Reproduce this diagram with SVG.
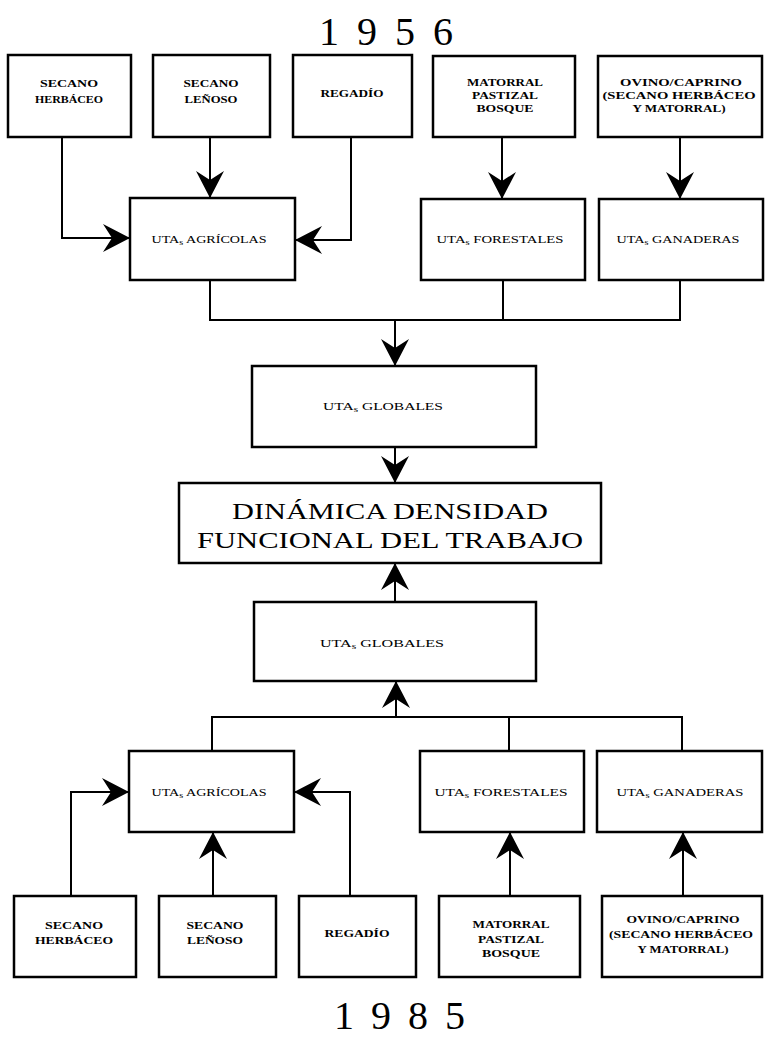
<svg xmlns="http://www.w3.org/2000/svg" width="766" height="1039" viewBox="0 0 766 1039">
<style>
.box{fill:#fff;stroke:#000;stroke-width:2.5}
.ln{fill:none;stroke:#000;stroke-width:2}
.src{font-family:"Liberation Serif",serif;font-weight:bold;font-size:11px;text-anchor:middle;fill:#000}
.uta{font-family:"Liberation Serif",serif;font-size:11px;text-anchor:middle;fill:#000}
.big{font-family:"Liberation Serif",serif;font-size:24px;text-anchor:middle;fill:#000}
.year{font-family:"Liberation Serif",serif;font-size:40px;fill:#000}
.sub{font-size:8px}
</style>
<defs>
<marker id="ah" viewBox="0 0 27 28" refX="27" refY="14" markerWidth="27" markerHeight="28" markerUnits="userSpaceOnUse" orient="auto">
<path d="M27,14 L0,0 L9,14 L0,28 Z" fill="#000"/>
</marker>
</defs>
<rect width="766" height="1039" fill="#fff"/>
<text class="year" x="319" y="45" letter-spacing="18">1956</text>
<text class="year" x="334" y="1029" letter-spacing="17">1985</text>

<g id="connectors">
<path class="ln" d="M62,137 V238 H130" marker-end="url(#ah)"/>
<path class="ln" d="M210,137 V198" marker-end="url(#ah)"/>
<path class="ln" d="M351,137 V240 H295" marker-end="url(#ah)"/>
<path class="ln" d="M502,137 V199" marker-end="url(#ah)"/>
<path class="ln" d="M680,137 V199" marker-end="url(#ah)"/>
<path class="ln" d="M210,280 V320 H680 V280 M503,280 V320"/>
<path class="ln" d="M395,320 V366" marker-end="url(#ah)"/>
<path class="ln" d="M395,447 V483" marker-end="url(#ah)"/>
<path class="ln" d="M395,602 V563" marker-end="url(#ah)"/>
<path class="ln" d="M212,751 V717 H682 V751 M509,717 V751"/>
<path class="ln" d="M396,717 V681" marker-end="url(#ah)"/>
<path class="ln" d="M71,896 V792 H129" marker-end="url(#ah)"/>
<path class="ln" d="M213,896 V832" marker-end="url(#ah)"/>
<path class="ln" d="M350,896 V792 H294" marker-end="url(#ah)"/>
<path class="ln" d="M510,896 V832" marker-end="url(#ah)"/>
<path class="ln" d="M683,896 V832" marker-end="url(#ah)"/>
</g>

<g id="t-secano-herbaceo">
<rect class="box" x="8" y="55" width="123" height="82"/>
<text class="src" x="69" y="87" textLength="58" lengthAdjust="spacingAndGlyphs">SECANO</text>
<text class="src" x="69" y="103" textLength="68" lengthAdjust="spacingAndGlyphs">HERBÁCEO</text>
</g>
<g id="t-secano-lenoso">
<rect class="box" x="153" y="55" width="117" height="82"/>
<text class="src" x="211" y="87" textLength="55" lengthAdjust="spacingAndGlyphs">SECANO</text>
<text class="src" x="211" y="103" textLength="53" lengthAdjust="spacingAndGlyphs">LEÑOSO</text>
</g>
<g id="t-regadio">
<rect class="box" x="293" y="55" width="119" height="82"/>
<text class="src" x="352" y="97" textLength="63" lengthAdjust="spacingAndGlyphs">REGADÍO</text>
</g>
<g id="t-matorral">
<rect class="box" x="433" y="56" width="142" height="81"/>
<text class="src" x="505" y="86" textLength="76" lengthAdjust="spacingAndGlyphs">MATORRAL</text>
<text class="src" x="505" y="99" textLength="66" lengthAdjust="spacingAndGlyphs">PASTIZAL</text>
<text class="src" x="505" y="112" textLength="57" lengthAdjust="spacingAndGlyphs">BOSQUE</text>
</g>
<g id="t-ovino">
<rect class="box" x="598" y="56" width="164" height="81"/>
<text class="src" x="681" y="86" textLength="122" lengthAdjust="spacingAndGlyphs">OVINO/CAPRINO</text>
<text class="src" x="679" y="99" textLength="153" lengthAdjust="spacingAndGlyphs">(SECANO HERBÁCEO</text>
<text class="src" x="679" y="112" textLength="93" lengthAdjust="spacingAndGlyphs">Y MATORRAL)</text>
</g>

<g id="t-uta-agricolas">
<rect class="box" x="130" y="198" width="165" height="82"/>
<text class="uta" x="209" y="243" textLength="115" lengthAdjust="spacingAndGlyphs">UTA<tspan class="sub" dy="2">s</tspan><tspan dy="-2"> AGRÍCOLAS</tspan></text>
</g>
<g id="t-uta-forestales">
<rect class="box" x="421" y="199" width="164" height="81"/>
<text class="uta" x="500" y="243" textLength="127" lengthAdjust="spacingAndGlyphs">UTA<tspan class="sub" dy="2">s</tspan><tspan dy="-2"> FORESTALES</tspan></text>
</g>
<g id="t-uta-ganaderas">
<rect class="box" x="599" y="199" width="164" height="81"/>
<text class="uta" x="678" y="243" textLength="123" lengthAdjust="spacingAndGlyphs">UTA<tspan class="sub" dy="2">s</tspan><tspan dy="-2"> GANADERAS</tspan></text>
</g>
<g id="t-uta-globales">
<rect class="box" x="252" y="366" width="284" height="81"/>
<text class="uta" x="383" y="410" textLength="120" lengthAdjust="spacingAndGlyphs">UTA<tspan class="sub" dy="2">s</tspan><tspan dy="-2"> GLOBALES</tspan></text>
</g>

<g id="dinamica">
<rect class="box" x="179" y="483" width="422" height="80"/>
<text class="big" x="390" y="519" textLength="316" lengthAdjust="spacingAndGlyphs">DINÁMICA DENSIDAD</text>
<text class="big" x="390" y="548" textLength="386" lengthAdjust="spacingAndGlyphs">FUNCIONAL DEL TRABAJO</text>
</g>

<g id="b-uta-globales">
<rect class="box" x="254" y="602" width="282" height="79"/>
<text class="uta" x="382" y="647" textLength="124" lengthAdjust="spacingAndGlyphs">UTA<tspan class="sub" dy="2">s</tspan><tspan dy="-2"> GLOBALES</tspan></text>
</g>
<g id="b-uta-agricolas">
<rect class="box" x="129" y="751" width="165" height="81"/>
<text class="uta" x="209" y="796" textLength="115" lengthAdjust="spacingAndGlyphs">UTA<tspan class="sub" dy="2">s</tspan><tspan dy="-2"> AGRÍCOLAS</tspan></text>
</g>
<g id="b-uta-forestales">
<rect class="box" x="420" y="751" width="164" height="81"/>
<text class="uta" x="501" y="796" textLength="133" lengthAdjust="spacingAndGlyphs">UTA<tspan class="sub" dy="2">s</tspan><tspan dy="-2"> FORESTALES</tspan></text>
</g>
<g id="b-uta-ganaderas">
<rect class="box" x="597" y="751" width="165" height="81"/>
<text class="uta" x="680" y="796" textLength="127" lengthAdjust="spacingAndGlyphs">UTA<tspan class="sub" dy="2">s</tspan><tspan dy="-2"> GANADERAS</tspan></text>
</g>

<g id="b-secano-herbaceo">
<rect class="box" x="14" y="896" width="122" height="81"/>
<text class="src" x="74" y="929" textLength="58" lengthAdjust="spacingAndGlyphs">SECANO</text>
<text class="src" x="74" y="944" textLength="78" lengthAdjust="spacingAndGlyphs">HERBÁCEO</text>
</g>
<g id="b-secano-lenoso">
<rect class="box" x="159" y="896" width="117" height="81"/>
<text class="src" x="215" y="929" textLength="57" lengthAdjust="spacingAndGlyphs">SECANO</text>
<text class="src" x="215" y="944" textLength="56" lengthAdjust="spacingAndGlyphs">LEÑOSO</text>
</g>
<g id="b-regadio">
<rect class="box" x="299" y="896" width="117" height="81"/>
<text class="src" x="357" y="937" textLength="65" lengthAdjust="spacingAndGlyphs">REGADÍO</text>
</g>
<g id="b-matorral">
<rect class="box" x="439" y="896" width="141" height="81"/>
<text class="src" x="511" y="928" textLength="77" lengthAdjust="spacingAndGlyphs">MATORRAL</text>
<text class="src" x="511" y="943" textLength="66" lengthAdjust="spacingAndGlyphs">PASTIZAL</text>
<text class="src" x="511" y="957" textLength="58" lengthAdjust="spacingAndGlyphs">BOSQUE</text>
</g>
<g id="b-ovino">
<rect class="box" x="602" y="896" width="160" height="81"/>
<text class="src" x="683" y="923" textLength="113" lengthAdjust="spacingAndGlyphs">OVINO/CAPRINO</text>
<text class="src" x="681" y="938" textLength="144" lengthAdjust="spacingAndGlyphs">(SECANO HERBÁCEO</text>
<text class="src" x="683" y="953" textLength="91" lengthAdjust="spacingAndGlyphs">Y MATORRAL)</text>
</g>
</svg>
